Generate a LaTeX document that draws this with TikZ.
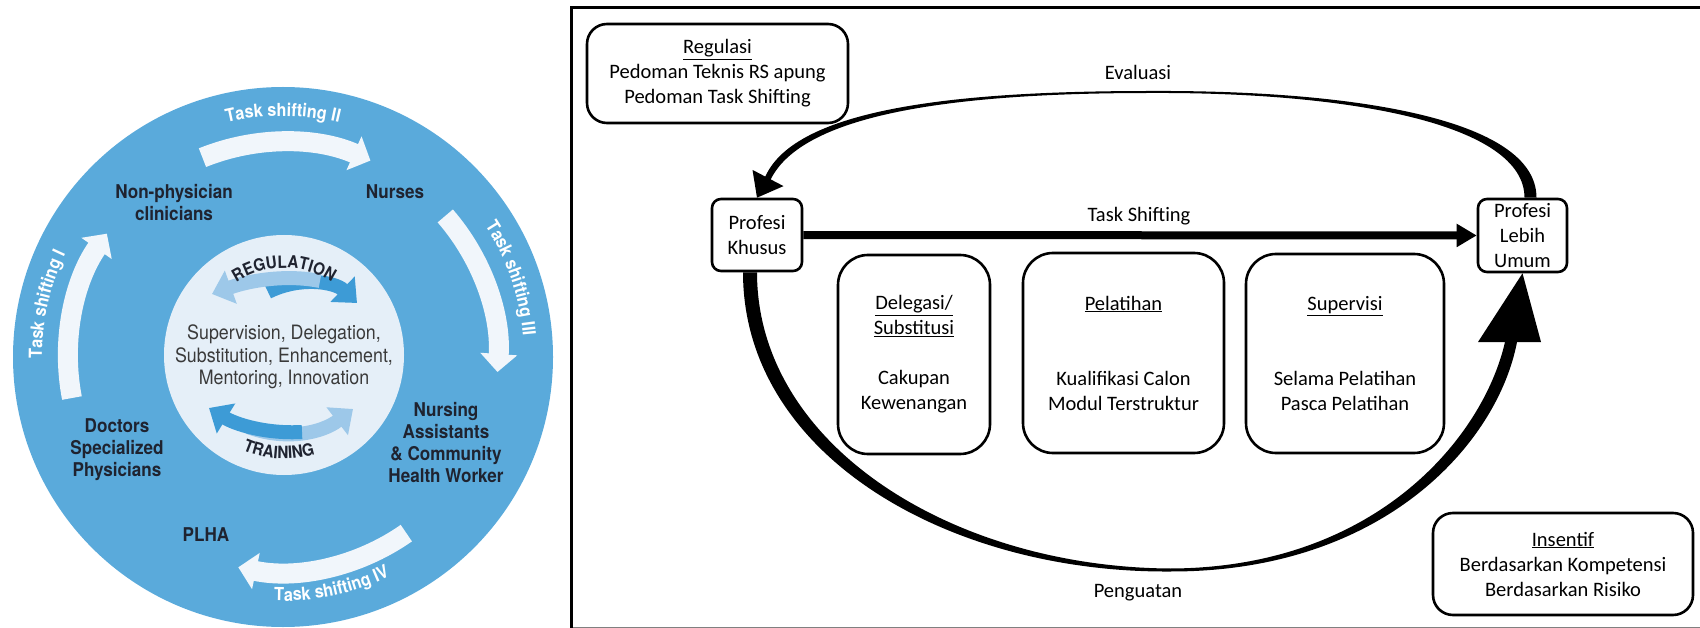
\documentclass[tikz,border=0pt]{standalone}
\usepackage{fontspec}
\setmainfont{Carlito}
\newfontfamily\herosfam[FakeStretch=0.9]{TeX Gyre Heros}
\usetikzlibrary{arrows.meta,decorations.text}

\definecolor{circblue}{HTML}{5AAADB}
\definecolor{innerbg}{HTML}{E5EFF8}
\definecolor{swlight}{HTML}{9DC8E9}
\definecolor{swdark}{HTML}{3D9BD6}
\definecolor{bandwhite}{HTML}{F1F6FB}
\definecolor{labelink}{HTML}{1F2330}
\definecolor{midink}{HTML}{3A3A3A}

\newcommand{\calsize}{\fontsize{20.5}{25}\selectfont}
\newcommand{\tslab}{\herosfam\bfseries\fontsize{18}{20}\selectfont\color{white}}
\newcommand{\swlab}{\herosfam\bfseries\fontsize{17}{19}\selectfont\color{labelink}}

\tikzset{
	panelbox/.style={draw, line width=2.6pt, rounded corners=30pt, inner sep=0pt, align=center, font=\calsize},
	profbox/.style={panelbox, rounded corners=9pt, minimum width=90pt, minimum height=72pt},
	circlab/.style={align=center, text=labelink, font=\herosfam\bfseries\fontsize{19}{22}\selectfont},
	midtext/.style={align=center, text=midink, font=\herosfam\fontsize{19.8}{22.5}\selectfont},
	wband/.style={bandwhite, line width=20pt, -{Triangle[width=36pt,length=18pt]}},
	swoosh/.style={line width=14pt, -{Triangle[width=34pt,length=20pt]}}
}

\begin{document}
\begin{tikzpicture}[x=1pt,y=-1pt,>=latex]
	\useasboundingbox (0,0) rectangle (1700,628);
	% left: task shifting circle
	\coordinate (C) at (283,357);
	\coordinate (Ci) at (284,355);
	\fill[circblue] (C) circle[radius=270];
	\fill[innerbg] (Ci) circle[radius=120];
	\foreach \s/\e in {-191/-145,-112/-66,-41/4,55/102}
		\draw[wband] (C) ++(\s:215) arc[start angle=\s, end angle=\e, radius=215];

	\path[decorate, decoration={text along path, text align=center, text={|\tslab|Task shifting I}}]
		(C) ++(-192:241) arc[start angle=-192, end angle=-143, radius=241];
	\path[decorate, decoration={text along path, text align=center, text={|\tslab|Task shifting II}}]
		(C) ++(-115:241) arc[start angle=-115, end angle=-65, radius=241];
	\path[decorate, decoration={text along path, text align=center, text={|\tslab|Task shifting III}}]
		(C) ++(-45:241) arc[start angle=-45, end angle=7, radius=241];
	\path[decorate, decoration={text along path, text align=center, text={|\tslab|Task shifting IV}}]
		(C) ++(103:244) arc[start angle=103, end angle=53, radius=244];

	\draw[swdark, swoosh] (268,292) .. controls (300,276) and (335,282) .. (357,303);
	\draw[swlight, swoosh] (320,281) .. controls (285,274) and (248,281) .. (212,294);
	\draw[swlight, swoosh] (248,427) .. controls (285,441) and (322,433) .. (353,409);
	\draw[swdark, swoosh] (302,432) .. controls (265,434) and (235,424) .. (209,408);

	\path[decorate, decoration={text along path, text align=center, text={|\swlab|REGULATION}}]
		(Ci) ++(-150:87) arc[start angle=-150, end angle=-30, radius=87];
	\path[decorate, decoration={text along path, text align=center, text={|\swlab|TRAINING}}]
		(Ci) ++(143:104) arc[start angle=143, end angle=43, radius=104];

	\node[midtext] (mid) at (284,357) {Supervision, Delegation,\\Substitution, Enhancement,\\Mentoring, Innovation};
	\node[circlab] (np) at (174,203) {Non-physician\\clinicians};
	\node[circlab] (nu) at (395,192) {Nurses};
	\node[circlab] (dr) at (117,450) {Doctors\\Specialized\\Physicians};
	\node[circlab] (na) at (446,443) {Nursing\\Assistants\\\& Community\\Health Worker};
	\node[circlab] (pl) at (206,535) {PLHA};

	% right: framework
	\draw[line width=3pt] (571.5,628) -- (571.5,7.5) -- (1700,7.5);
	\draw[gray, line width=1pt] (573,627) -- (1700,627);

	\node[panelbox, rounded corners=20pt, minimum width=261pt, minimum height=99pt] (reg) at (717.5,73.5)
		{\underline{Regulasi}\\Pedoman Teknis RS apung\\Pedoman Task Shifting};
	\node[profbox] (pk) at (757,235) {Profesi\\Khusus};
	\node[profbox, minimum width=89pt, minimum height=73pt] (lu) at (1522.5,235.5) {Profesi\\Lebih\\Umum};
	\node[panelbox, minimum width=152pt, minimum height=199pt] (del) at (914,354.5)
		{\underline{Delegasi/}\\\underline{Substitusi}\\[25pt]Cakupan\\Kewenangan};
	\node[panelbox, minimum width=201pt, minimum height=200pt] (pel) at (1123.5,353)
		{\underline{Pelatihan}\\[50pt]Kualifikasi Calon\\Modul Terstruktur};
	\node[panelbox, minimum width=198pt, minimum height=199pt] (sup) at (1345,353.5)
		{\underline{Supervisi}\\[50pt]Selama Pelatihan\\Pasca Pelatihan};
	\node[panelbox, rounded corners=20pt, minimum width=260pt, minimum height=102pt] (ins) at (1563,564)
		{\underline{Insentif}\\Berdasarkan Kompetensi\\Berdasarkan Risiko};

	\node[font=\calsize] (ev) at (1138,72) {Evaluasi};
	\node[font=\calsize] (ts) at (1139,216) {Task Shifting};
	\node[font=\calsize] (pg) at (1138,593) {Penguatan};

	\draw[line width=8pt, -{Triangle[width=22pt,length=20pt]}] (pk) -- (lu);

	% tapered loop arrows
	\fill ([xshift=14pt]lu.north) .. controls (1536.5,118) and (1350,90) .. (1150,91)
		.. controls (958,91) and (796,108) .. (765.3,176.6) -- (752.5,169.9) -- (pk.north)
		-- (783.5,186.1) -- (770.7,179.4) .. controls (804,112) and (962,93) .. (1150,93)
		.. controls (1350,92) and (1524.5,124) .. ([xshift=2pt]lu.north) -- cycle;
	\fill ([xshift=-14pt]pk.south) .. controls (743,455) and (948,573) .. (1170,571.5)
		.. controls (1385,572) and (1498,442) .. (1517,342) -- (1541,342) -- (lu.south)
		-- (1478,342) -- (1505,342) .. controls (1483,438) and (1375,568) .. (1170,568.5)
		.. controls (952,567) and (757,445) .. (pk.south) -- cycle;
\end{tikzpicture}
\end{document}
